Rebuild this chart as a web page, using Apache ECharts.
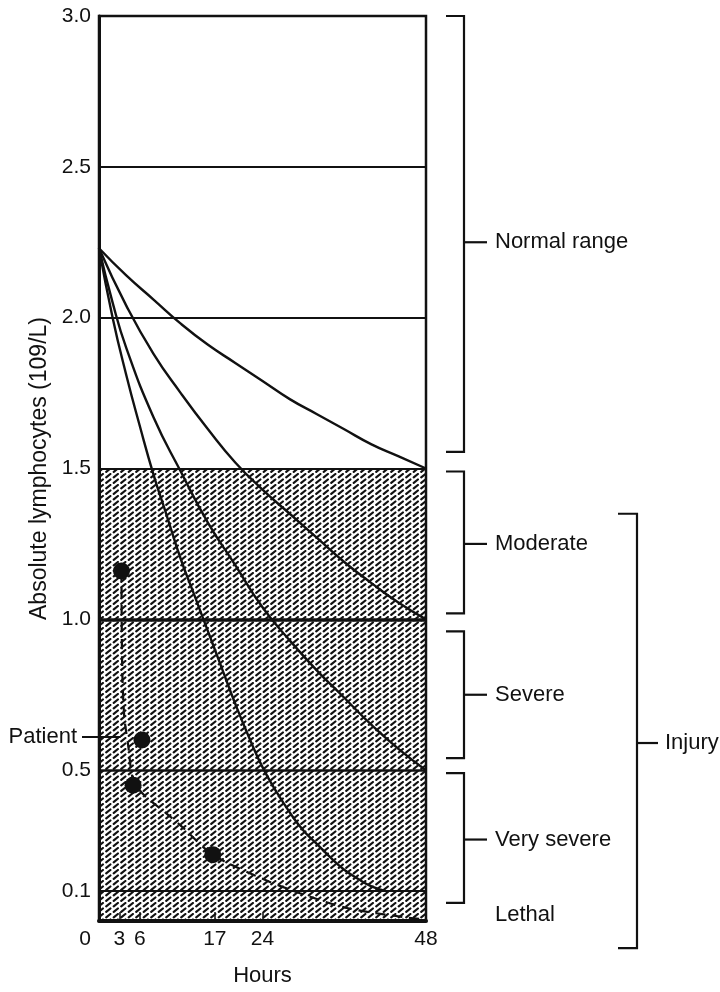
<!DOCTYPE html>
<html>
<head>
<meta charset="utf-8">
<script src="https://cdn.jsdelivr.net/npm/echarts@6/dist/echarts.min.js"></script>
<style>
html, body { margin: 0; padding: 0; background: #fff; }
#chart { width: 720px; height: 992px; }
</style>
</head>
<body>
<div id="chart"></div>
<script>
// readings: [hours, lymphocytes 10^9/L]
var curve1 = [[0, 2.23], [4, 2.14], [8, 2.06], [12, 1.98], [16, 1.91], [20, 1.85], [24, 1.79], [28, 1.73],
    [32, 1.68], [36, 1.63], [40, 1.58], [44, 1.54], [48, 1.5]];
var curve2 = [[0, 2.23], [4, 2.04], [8, 1.88], [12, 1.75], [16, 1.63], [20, 1.52], [24, 1.43], [28, 1.35],
    [32, 1.27], [36, 1.19], [40, 1.12], [44, 1.055], [48, 1.0]];
var curve3 = [[0, 2.23], [2, 2.05], [4, 1.9], [8, 1.67], [12, 1.49], [16, 1.32], [20, 1.18], [24, 1.04],
    [28, 0.93], [32, 0.83], [36, 0.74], [40, 0.65], [44, 0.57], [48, 0.5]];
var curve4 = [[0, 2.23], [2, 2.0], [4, 1.81], [6, 1.64], [8, 1.48], [10, 1.34], [12, 1.2], [14, 1.08],
    [16, 0.96], [18, 0.84], [20, 0.72], [22, 0.61], [24, 0.51], [26, 0.43], [28, 0.36], [30, 0.3],
    [32, 0.255], [34, 0.21], [36, 0.17], [38, 0.14], [40, 0.115], [42, 0.1]];
var patientCurve = [[3.3, 1.16], [3.4, 0.85], [3.7, 0.68], [4.3, 0.58], [5.0, 0.47], [6.5, 0.42], [9.7, 0.36],
    [12.3, 0.31], [16.7, 0.22], [24, 0.14], [29.5, 0.092], [36.4, 0.043], [45, 0.012], [48, 0.005]];
var patientDots = [[3.3, 1.16], [6.3, 0.60], [5.0, 0.45], [16.7, 0.22]];

var hourLabels = [0, 3, 6, 17, 24, 48];
var hourTicks = [3, 6, 17, 24];
var valueLabels = [0.1, 0.5, 1.0, 1.5, 2.0, 2.5, 3.0];
var levelLines = [2.5, 2.0, 1.5, 1.0, 0.5, 0.1];
var levelWidths = [2, 2, 2, 3.5, 2.5, 2];
var hatchTop = 1.5;

// range brackets on the right
var bandNames = ["Normal range", "Moderate", "Severe", "Very severe"];
var bandTop = [3.0, 1.49, 0.96, 0.49];
var bandBottom = [1.555, 1.02, 0.54, 0.06];
var bandMid = [2.25, 1.25, 0.75, 0.27];
var injuryRange = [1.35, -0.09, 0.59];
var lethalAt = 0.02;
var patientAt = [3.2, 0.61];

var FONT = '"Liberation Sans", Arial, sans-serif';
var INK = "#111";

// hatch pattern: short diagonal strokes
function makeHatch() {
    var c = document.createElement("canvas");
    c.width = 15;
    c.height = 11;
    var ctx = c.getContext("2d");
    ctx.strokeStyle = INK;
    ctx.lineWidth = 2.2;
    ctx.lineCap = "round";
    [[0, 0], [7.5, 0], [0, 5.5], [7.5, 5.5]].forEach(function (o) {
        ctx.beginPath();
        ctx.moveTo(o[0] + 1.2, o[1] + 4.4);
        ctx.lineTo(o[0] + 5.4, o[1] + 1.0);
        ctx.stroke();
    });
    return c;
}

var chart = echarts.init(document.getElementById("chart"));

function curveSeries(data) {
    return {
        type: "line",
        data: data,
        smooth: 0.5,
        symbol: "none",
        z: 3,
        lineStyle: { color: INK, width: 2.4 }
    };
}

chart.setOption({
    animation: false,
    backgroundColor: "#fff",
    grid: {
        left: 99,
        right: 294,
        top: 16,
        bottom: 67,
        show: true,
        borderColor: INK,
        borderWidth: 2.5
    },
    xAxis: {
        type: "value",
        min: 0,
        max: 48,
        name: "Hours",
        nameLocation: "middle",
        nameGap: 44,
        nameTextStyle: { fontFamily: FONT, fontSize: 22, color: INK },
        axisLine: { lineStyle: { color: INK, width: 4 } },
        axisTick: { show: true, inside: true, length: 9, customValues: hourTicks, lineStyle: { color: INK, width: 1.5 } },
        axisLabel: {
            customValues: hourLabels,
            margin: 8,
            fontFamily: FONT,
            fontSize: 21,
            color: INK,
            formatter: function (v) { return v === 0 ? "{z|0}" : String(v); },
            rich: { z: { fontFamily: FONT, fontSize: 21, color: INK, padding: [0, 28, 0, 0] } }
        },
        splitLine: { show: false }
    },
    yAxis: {
        type: "value",
        min: 0,
        max: 3,
        name: "Absolute lymphocytes (109/L)",
        nameLocation: "middle",
        nameGap: 48,
        nameTextStyle: { fontFamily: FONT, fontSize: 23, color: INK },
        axisLine: { show: true, lineStyle: { color: INK, width: 3 } },
        axisTick: { show: false },
        axisLabel: {
            customValues: valueLabels,
            margin: 8,
            fontFamily: FONT,
            fontSize: 21,
            color: INK,
            formatter: function (v) { return v.toFixed(1); }
        },
        splitLine: { show: false }
    },
    series: [
        {
            // hatched injury zone and level lines
            type: "line",
            data: [],
            z: 1,
            markArea: {
                silent: true,
                itemStyle: { color: { image: makeHatch(), repeat: "repeat" } },
                data: [[{ yAxis: 0 }, { yAxis: hatchTop }]]
            },
            markLine: {
                silent: true,
                symbol: "none",
                label: { show: false },
                data: levelLines.map(function (v, i) {
                    return { yAxis: v, lineStyle: { color: INK, width: levelWidths[i], type: "solid" } };
                })
            }
        },
        curveSeries(curve1),
        curveSeries(curve2),
        curveSeries(curve3),
        curveSeries(curve4),
        {
            type: "line",
            data: patientCurve,
            smooth: 0.3,
            symbol: "none",
            z: 3,
            lineStyle: { color: INK, width: 2.2, type: [10, 7] }
        },
        {
            type: "scatter",
            data: patientDots,
            symbolSize: 17,
            z: 4,
            itemStyle: { color: INK, opacity: 1 }
        }
    ]
});

// brackets and labels outside the plot
function py(v) { return chart.convertToPixel({ yAxisIndex: 0 }, v); }
function px(v) { return chart.convertToPixel({ xAxisIndex: 0 }, v); }

var graphics = [];
var lineStyle = { stroke: INK, lineWidth: 2.2, fill: null };
var textFont = "22px " + FONT;
function bracket(x0, x1, x2, xt, top, bottom, mid, text) {
    graphics.push({
        type: "polyline",
        shape: { points: [[x0, py(top)], [x1, py(top)], [x1, py(bottom)], [x0, py(bottom)]] },
        style: lineStyle
    });
    graphics.push({ type: "line", shape: { x1: x1, y1: py(mid), x2: x2, y2: py(mid) }, style: lineStyle });
    graphics.push({
        type: "text", x: xt, y: py(mid),
        style: { text: text, font: textFont, fill: INK, textVerticalAlign: "middle", textAlign: "left" }
    });
}
bandNames.forEach(function (n, i) {
    bracket(446, 464, 487, 495, bandTop[i], bandBottom[i], bandMid[i], n);
});
bracket(618, 637, 658, 665, injuryRange[0], injuryRange[1], injuryRange[2], "Injury");
graphics.push({
    type: "text", x: 495, y: py(lethalAt),
    style: { text: "Lethal", font: textFont, fill: INK, textVerticalAlign: "middle", textAlign: "left" }
});
graphics.push({
    type: "text", x: 77, y: py(patientAt[1]),
    style: { text: "Patient", font: textFont, fill: INK, textVerticalAlign: "middle", textAlign: "right" }
});
graphics.push({
    type: "line",
    shape: { x1: 82, y1: py(patientAt[1]), x2: px(patientAt[0]), y2: py(patientAt[1]) },
    style: lineStyle
});
chart.setOption({ graphic: graphics });
</script>
</body>
</html>
